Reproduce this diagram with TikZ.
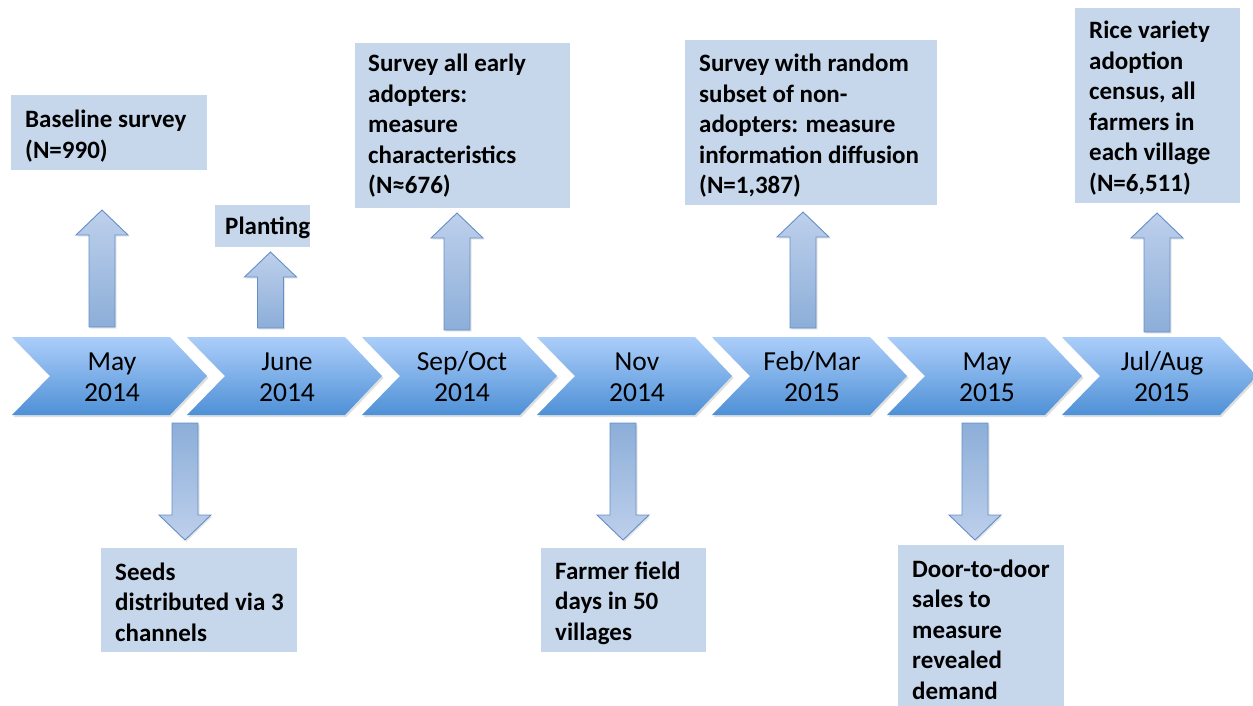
\documentclass[tikz,border=0pt]{standalone}
\usepackage{fontspec}
\setmainfont{Carlito}
\usetikzlibrary{shadows}
\definecolor{boxfill}{RGB}{198,215,235}
\definecolor{chevtop}{RGB}{172,206,250}
\definecolor{chevbot}{RGB}{78,144,214}
\definecolor{arrlight}{RGB}{190,208,236}
\definecolor{arrdark}{RGB}{140,174,216}
\definecolor{arrline}{RGB}{100,142,200}
\newcommand\BoxText[1]{\fontsize{25}{30.5}\selectfont\bfseries\begin{tabular}[t]{@{}l@{}}#1\end{tabular}}
\newcommand\ChevText[1]{\fontsize{27.5}{31}\selectfont\begin{tabular}[t]{@{}c@{}}#1\end{tabular}}
% chevron: #1 = left x
\newcommand\Chevron[1]{%
  \path[chevstyle] (#1,337) -- ++(158,0) -- ++(37,39) -- ++(-37,39) -- ++(-158,0) -- ++(38,-39) -- cycle;}
% up block arrow: #1 centre x, #2 tip y, #3 tail y
\newcommand\UpBlock[3]{%
  \path[upblock] (#1-13,#3) -- (#1-13,#2+25) -- (#1-26,#2+25) -- (#1,#2) -- (#1+26,#2+25) -- (#1+13,#2+25) -- (#1+13,#3) -- cycle;}
\newcommand\DownBlock[3]{%
  \path[downblock] (#1-13,#3) -- (#1-13,#2-25) -- (#1-26,#2-25) -- (#1,#2) -- (#1+26,#2-25) -- (#1+13,#2-25) -- (#1+13,#3) -- cycle;}
\begin{document}
\begin{tikzpicture}[x=1pt,y=-1pt,
  chevstyle/.style={top color=chevtop,bottom color=chevbot,
    drop shadow={opacity=0.25,shadow xshift=1.5pt,shadow yshift=-2pt}},
  upblock/.style={draw=arrline,line width=0.9pt,top color=arrlight,bottom color=arrdark,
    drop shadow={opacity=0.2,shadow xshift=1.5pt,shadow yshift=-1.5pt}},
  downblock/.style={draw=arrline,line width=0.9pt,top color=arrdark,bottom color=arrlight,
    drop shadow={opacity=0.2,shadow xshift=1.5pt,shadow yshift=-1.5pt}},
  infobox/.style={fill=boxfill,draw=none,inner sep=0pt},
  boxtext/.style={anchor=base west,inner sep=0pt,text=black},
  chevlabel/.style={anchor=base,inner sep=0pt,text=black}]
\useasboundingbox (0,0) rectangle (1253,706);

% chevrons
\foreach \cx in {12,187,362,537,712,887,1062} {\Chevron{\cx}}
\node[chevlabel] (c1) at (112,370) {\ChevText{May\\2014}};
\node[chevlabel] (c2) at (287,370) {\ChevText{June\\2014}};
\node[chevlabel] (c3) at (462,370) {\ChevText{Sep/Oct\\2014}};
\node[chevlabel] (c4) at (637,370) {\ChevText{Nov\\2014}};
\node[chevlabel] (c5) at (812,370) {\ChevText{Feb/Mar\\2015}};
\node[chevlabel] (c6) at (987,370) {\ChevText{May\\2015}};
\node[chevlabel] (c7) at (1162,370) {\ChevText{Jul/Aug\\2015}};

% block arrows
\UpBlock{102}{210}{327}
\DownBlock{185}{540}{423}
\UpBlock{270.5}{252}{328}
\UpBlock{457}{213}{330}
\DownBlock{623}{540}{423}
\UpBlock{803}{212}{328}
\DownBlock{975}{540}{423}
\UpBlock{1157}{213}{332}

% boxes
\path[infobox] (11,95) rectangle (207,170);
\node[boxtext] (t1) at (25,128) {\BoxText{Baseline survey\\(N=990)}};

\path[infobox] (101,548) rectangle (297,652);
\node[boxtext] (t2) at (115,580) {\BoxText{Seeds\\distributed via 3\\channels}};

\path[infobox] (215,205) rectangle (310,247);
\node[boxtext] (t3) at (225,234) {\BoxText{Planting}};

\path[infobox] (355,43) rectangle (570,208);
\node[boxtext] (t4) at (368,72) {\BoxText{Survey all early\\adopters:\\measure\\characteristics\\(N≈676)}};

\path[infobox] (541,548) rectangle (706,652);
\node[boxtext] (t5) at (555,579) {\BoxText{Farmer field\\days in 50\\villages}};

\path[infobox] (685,40) rectangle (937,205);
\node[boxtext] (t6) at (699,72) {\BoxText{Survey with random\\subset of non-\\adopters: measure\\information diffusion\\(N=1,387)}};

\path[infobox] (898,545) rectangle (1064,706);
\node[boxtext] (t7) at (912,577) {\BoxText{Door-to-door\\sales to\\measure\\revealed\\demand}};

\path[infobox] (1075,8) rectangle (1240,203);
\node[boxtext] (t8) at (1089,39) {\BoxText{Rice variety\\adoption\\census, all\\farmers in\\each village\\(N=6,511)}};
\end{tikzpicture}
\end{document}
